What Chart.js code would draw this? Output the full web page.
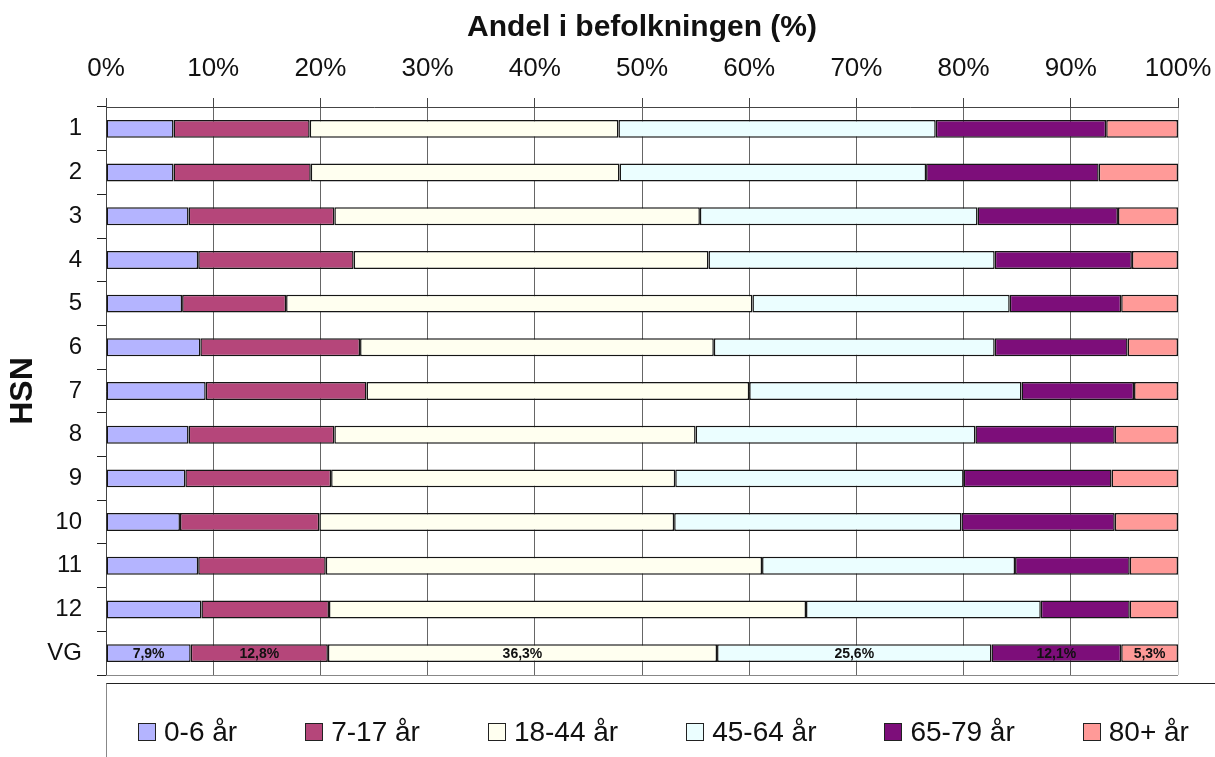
<!DOCTYPE html>
<html>
<head>
<meta charset="utf-8">
<script src="https://cdn.jsdelivr.net/npm/chart.js@4"></script>
<style>
  body { margin: 0; background: #fff; font-family: "Liberation Sans", Arial, sans-serif; }
  #wrap { position: relative; width: 1215px; height: 757px; overflow: hidden; }
  #legendBox {
    position: absolute; left: 106px; top: 683px; width: 1200px; height: 120px;
    border-top: 1.5px solid #222; border-left: 1px solid #888; box-sizing: border-box;
  }
  #legendItems { position: absolute; left: 31px; top: 32px; display: flex; gap: 68px; white-space: nowrap; }
  .item { display: flex; align-items: center; font-size: 28px; color: #111; }
  .swatch { width: 16px; height: 16px; border: 1.5px solid #222; margin-right: 8px; }
</style>
</head>
<body>
<div id="wrap">
  <canvas id="chart"></canvas>
  <div id="legendBox"><div id="legendItems"></div></div>
</div>
<script>
const categories = ['1', '2', '3', '4', '5', '6', '7', '8', '9', '10', '11', '12', 'VG'];
const seriesLabels = ['0-6 år', '7-17 år', '18-44 år', '45-64 år', '65-79 år', '80+ år'];
const seriesColors = ['#b4b4ff', '#b5467a', '#fffff0', '#ebfeff', '#7d0e7a', '#ff9a98'];

const age0_6   = [6.3, 6.3, 7.7, 8.6, 7.1, 8.8, 9.3, 7.7, 7.4, 6.9, 8.6, 8.9, 7.9];
const age7_17  = [12.7, 12.8, 13.6, 14.5, 9.7, 14.9, 15.0, 13.6, 13.6, 13.0, 11.9, 11.9, 12.8];
const age18_44 = [28.8, 28.8, 34.1, 33.1, 43.5, 33.0, 35.7, 33.7, 32.1, 33.1, 40.7, 44.5, 36.3];
const age45_64 = [29.6, 28.6, 25.9, 26.7, 24.0, 26.2, 25.4, 26.1, 26.9, 26.8, 23.6, 21.9, 25.6];
const age65_79 = [15.9, 16.1, 13.1, 12.8, 10.4, 12.4, 10.5, 13.0, 13.8, 14.3, 10.7, 8.3, 12.1];
const age80    = [6.7, 7.4, 5.6, 4.3, 5.3, 4.7, 4.1, 5.9, 6.2, 5.9, 4.5, 4.5, 5.3];

const seriesValues = [age0_6, age7_17, age18_44, age45_64, age65_79, age80];
const labelledRow = 'VG';

// HTML legend
const legendEl = document.getElementById('legendItems');
seriesLabels.forEach((name, i) => {
    const item = document.createElement('div');
    item.className = 'item';
    item.innerHTML = '<span class="swatch" style="background:' + seriesColors[i] + '"></span>' + name;
    legendEl.appendChild(item);
});

// values in the VG row, plus the bottom frame line
const frameAndLabels = {
    id: 'frameAndLabels',
    afterDatasetsDraw(chart) {
        const ctx = chart.ctx;
        const area = chart.chartArea;
        ctx.save();
        ctx.strokeStyle = '#888';
        ctx.lineWidth = 1;
        ctx.beginPath();
        ctx.moveTo(area.left, area.bottom + 0.5);
        ctx.lineTo(area.right, area.bottom + 0.5);
        ctx.stroke();

        const row = categories.indexOf(labelledRow);
        ctx.font = 'bold 14px "Liberation Sans", Arial, sans-serif';
        ctx.fillStyle = '#111';
        ctx.textAlign = 'center';
        ctx.textBaseline = 'middle';
        chart.data.datasets.forEach((ds, i) => {
            const bar = chart.getDatasetMeta(i).data[row];
            const v = ds.data[row];
            ctx.fillText(v.toFixed(1).replace('.', ',') + '%', (bar.x + bar.base) / 2, bar.y + 1);
        });
        ctx.restore();
    }
};

const ctx = document.getElementById('chart').getContext('2d');
new Chart(ctx, {
    type: 'bar',
    data: {
        labels: categories,
        datasets: seriesLabels.map((name, i) => ({
            label: name,
            data: seriesValues[i],
            backgroundColor: seriesColors[i],
            borderColor: '#151515',
            borderWidth: 1.5,
            borderSkipped: false,
            barPercentage: 0.41,
            categoryPercentage: 1.0
        }))
    },
    options: {
        indexAxis: 'y',
        responsive: true,
        maintainAspectRatio: false,
        animation: false,
        layout: { padding: { left: 0, top: 0, right: 37, bottom: 82 } },
        plugins: {
            legend: { display: false },
            tooltip: { enabled: false }
        },
        scales: {
            x: {
                position: 'top',
                stacked: true,
                min: 0,
                max: 100,
                afterFit: (scale) => {
                    scale.height = 107;
                    scale.paddingLeft = 0;
                    scale.paddingRight = 0;
                },
                ticks: {
                    stepSize: 10,
                    padding: 14,
                    color: '#111',
                    font: { family: '"Liberation Sans", Arial, sans-serif', size: 26 },
                    callback: (v) => v + '%'
                },
                grid: {
                    color: (c) => c.index === 10 ? '#c8c8c8' : '#666',
                    tickColor: '#444',
                    tickLength: 9,
                    lineWidth: 1
                },
                border: { display: true, color: '#444', width: 1 },
                title: {
                    display: true,
                    text: 'Andel i befolkningen (%)',
                    color: '#111',
                    padding: { top: 10, bottom: 0 },
                    font: { family: '"Liberation Sans", Arial, sans-serif', size: 30, weight: 'bold' }
                }
            },
            y: {
                stacked: true,
                afterFit: (scale) => { scale.width = 106; },
                ticks: {
                    padding: 15,
                    color: '#111',
                    font: { family: '"Liberation Sans", Arial, sans-serif', size: 24 }
                },
                grid: {
                    offset: true,
                    drawOnChartArea: false,
                    drawTicks: true,
                    tickLength: 9,
                    color: '#222'
                },
                border: { display: true, color: '#444', width: 1 },
                title: {
                    display: true,
                    text: 'HSN',
                    color: '#111',
                    padding: { top: 4, bottom: 0 },
                    font: { family: '"Liberation Sans", Arial, sans-serif', size: 32, weight: 'bold' }
                }
            }
        }
    },
    plugins: [frameAndLabels]
});
</script>
</body>
</html>
